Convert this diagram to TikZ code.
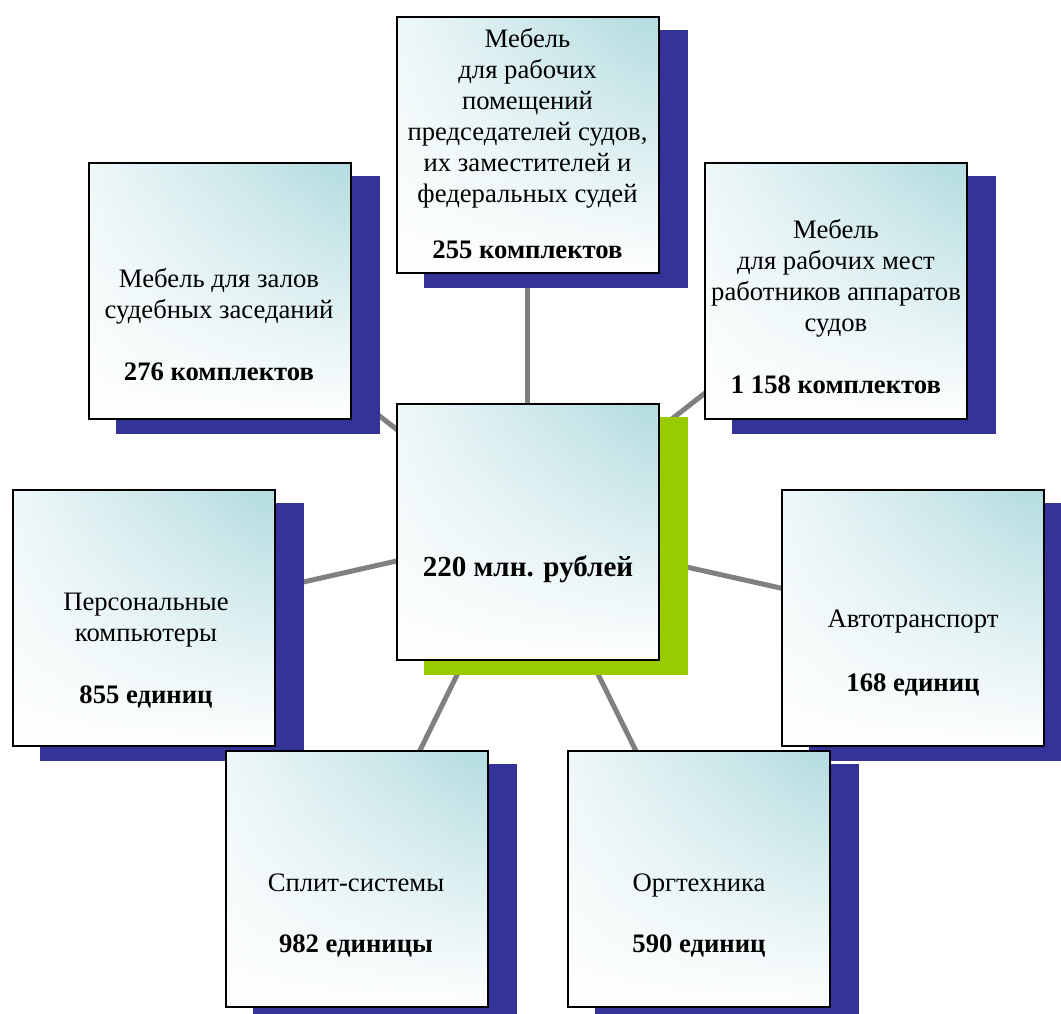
\documentclass[tikz,border=0pt]{standalone}
\usepackage{fontspec}
\setmainfont{Liberation Serif}
\usetikzlibrary{fadings}
\definecolor{tealc}{RGB}{181,221,225}
\definecolor{shblue}{RGB}{51,51,153}
\definecolor{shgreen}{RGB}{153,204,0}
\definecolor{conngray}{RGB}{128,128,128}
\pgfdeclarelayer{bg}
\pgfdeclarelayer{shd}
\pgfsetlayers{bg,shd,main}
\pgfdeclarehorizontalshading{boxshade}{100bp}{color(0bp)=(white); color(12bp)=(white); color(72bp)=(tealc); color(100bp)=(tealc)}
\tikzfading[name=fadetop, top color=transparent!100, middle color=transparent!75, bottom color=transparent!0]
\tikzset{
  card/.style={draw=black, line width=1.5pt, minimum width=196.5pt, minimum height=192pt, inner sep=0pt,
    path picture={
      \shade[shading=boxshade] (path picture bounding box.south west) rectangle (path picture bounding box.north east);
      \fill[white, path fading=fadetop] (path picture bounding box.south west) rectangle (path picture bounding box.north east);
    }},
  conn/.style={draw=conngray, line width=3.75pt},
  txt/.style={align=center, inner sep=0pt, anchor=north, font=\fontsize{20}{23.25}\selectfont},
  bigtxt/.style={inner sep=0pt, anchor=base, font=\fontsize{21.8}{26}\selectfont\bfseries},
  bshadow/.style={fill=shblue},
  gshadow/.style={fill=shgreen}
}
\begin{document}
\begin{tikzpicture}[x=0.75pt, y=-0.75pt]
\useasboundingbox (0,0) rectangle (1061,1014);
% boxes
\node[card] (TL) at (219.5,291) {};
\node[card] (T)  at (527.5,145) {};
\node[card] (TR) at (836,291) {};
\node[card] (L)  at (143.5,618) {};
\node[card] (R)  at (912.5,617.5) {};
\node[card] (C)  at (527.5,531.5) {};
\node[card] (BL) at (357,878.5) {};
\node[card] (BR) at (699,878.5) {};
% texts
\node[txt] (tT) at (527.5,28.5) {Мебель\\для рабочих\\помещений\\председателей судов,\\их заместителей и\\федеральных судей\\[18.75pt]\textbf{255 комплектов}};
\node[txt] (tTL) at (219,268.5) {Мебель для залов\\судебных заседаний\\[23.25pt]\textbf{276 комплектов}};
\node[txt] (tTR) at (836,219.5) {Мебель\\для рабочих мест\\работников аппаратов\\судов\\[23.25pt]\textbf{1 158 комплектов}};
\node[txt] (tL) at (146,592.5) {Персональные\\компьютеры\\[23.25pt]\textbf{855 единиц}};
\node[txt] (tR) at (913,609.5) {Автотранспорт\\[24.75pt]\textbf{168 единиц}};
\node[txt] (tBL) at (356,873.5) {Сплит-системы\\[22.5pt]\textbf{982 единицы}};
\node[txt] (tBR) at (699,873.5) {Оргтехника\\[22.5pt]\textbf{590 единиц}};
\node[bigtxt] (tC) at (528,576) {220 млн. рублей};
% shadows
\begin{pgfonlayer}{shd}
\foreach \n in {TL,T,TR,L,R,BL,BR}
  \path[bshadow] ([xshift=21pt,yshift=-10.5pt]\n.south west) rectangle ([xshift=21pt,yshift=-10.5pt]\n.north east);
\path[gshadow] ([xshift=21pt,yshift=-10.5pt]C.south west) rectangle ([xshift=21pt,yshift=-10.5pt]C.north east);
\end{pgfonlayer}
% connectors
\begin{pgfonlayer}{bg}
\foreach \n in {TL,T,TR,L,R,BL,BR}
  \draw[conn] (C.center) -- (\n.center);
\end{pgfonlayer}
\end{tikzpicture}
\end{document}
